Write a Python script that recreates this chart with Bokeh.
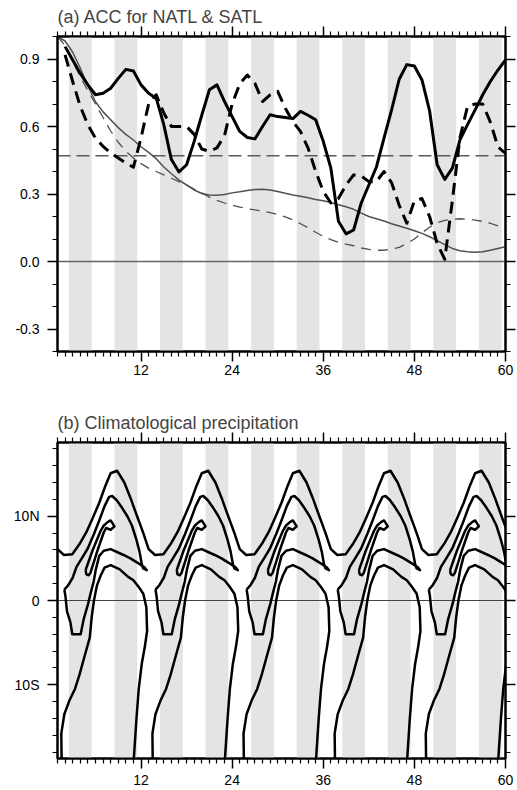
from bokeh.plotting import figure
from bokeh.models import Range1d, FixedTicker, LinearAxis
from bokeh.layouts import column
from bokeh.embed import file_html
from bokeh.resources import INLINE

FONT = "Liberation Sans"

# ---------------- panel (a): ACC versus lead month ----------------
lead_months = list(range(1, 61))
acc_months = list(range(2, 61))
natl_acc = [0.955, 0.896, 0.836, 0.785, 0.741, 0.748, 0.770, 0.814, 0.854, 0.847,
            0.785, 0.748, 0.726, 0.608, 0.453, 0.398, 0.430, 0.534, 0.650, 0.763,
            0.785, 0.711, 0.644, 0.578, 0.551, 0.545, 0.600, 0.652, 0.644, 0.640,
            0.635, 0.667, 0.650, 0.630, 0.534, 0.415, 0.179, 0.123, 0.140, 0.260,
            0.340, 0.420, 0.548, 0.674, 0.810, 0.875, 0.869, 0.807, 0.670, 0.430,
            0.365, 0.415, 0.541, 0.608, 0.674, 0.741, 0.800, 0.851, 0.896]
satl_acc = [0.918, 0.800, 0.689, 0.608, 0.548, 0.512, 0.482, 0.460, 0.438, 0.419,
            0.550, 0.700, 0.741, 0.660, 0.600, 0.600, 0.600, 0.565, 0.500, 0.490,
            0.505, 0.560, 0.700, 0.790, 0.829, 0.792, 0.711, 0.741, 0.756, 0.681,
            0.622, 0.578, 0.504, 0.401, 0.312, 0.260, 0.280, 0.340, 0.385, 0.380,
            0.355, 0.355, 0.400, 0.350, 0.250, 0.170, 0.270, 0.280, 0.200, 0.080,
            0.010, 0.270, 0.550, 0.690, 0.700, 0.700, 0.620, 0.510, 0.480]
natl_persist = [1.0, 0.98, 0.93, 0.86, 0.78, 0.71, 0.665, 0.63, 0.595, 0.565,
                0.54, 0.51, 0.485, 0.457, 0.42, 0.39, 0.362, 0.34, 0.318, 0.302,
                0.296, 0.294, 0.298, 0.305, 0.31, 0.316, 0.32, 0.321, 0.318, 0.311,
                0.303, 0.296, 0.29, 0.283, 0.276, 0.27, 0.262, 0.252, 0.243, 0.232,
                0.215, 0.2, 0.19, 0.18, 0.168, 0.158, 0.148, 0.137, 0.125, 0.11,
                0.093, 0.075, 0.058, 0.048, 0.043, 0.041, 0.043, 0.05, 0.058, 0.066]
satl_persist = [1.0, 0.96, 0.89, 0.82, 0.76, 0.70, 0.64, 0.58, 0.53, 0.49,
                0.46, 0.435, 0.415, 0.40, 0.385, 0.37, 0.355, 0.34, 0.322, 0.305,
                0.286, 0.272, 0.26, 0.25, 0.242, 0.235, 0.229, 0.224, 0.217, 0.209,
                0.198, 0.185, 0.168, 0.15, 0.13, 0.112, 0.097, 0.085, 0.077, 0.07,
                0.06, 0.054, 0.05, 0.05, 0.055, 0.063, 0.08, 0.10, 0.128, 0.152,
                0.172, 0.183, 0.188, 0.19, 0.188, 0.184, 0.178, 0.17, 0.158, 0.145]
significance = 0.47
acc_ticks = [-0.3, 0.0, 0.3, 0.6, 0.9]
acc_tick_labels = ["-0.3", "0.0", "0.3", "0.6", "0.9"]
acc_minor = [-0.4, -0.2, -0.1, 0.1, 0.2, 0.4, 0.5, 0.7, 0.8, 1.0]
acc_min, acc_max = -0.4, 1.0

x_ticks = [12, 24, 36, 48, 60]
x_minor = [m for m in range(1, 60) if m % 12]
stripe_start = [2.5, 8.5, 14.5, 20.5, 26.5, 32.5, 38.5, 44.5, 50.5, 56.5]
stripe_width = 3

# ---------------- panel (b): climatological precipitation contours ----------------
# traced over one annual cycle (month of year, latitude); the climatology repeats each year
cyc_month_outer_n = [1.0, 1.85, 2.95, 3.9, 4.8, 5.6, 6.5, 7.3, 8.0, 8.85, 9.8, 10.6, 11.4, 12.3]
cyc_lat_outer_n = [6.1, 5.4, 5.5, 6.7, 8.1, 9.7, 11.6, 13.6, 15.1, 15.4, 14.0, 12.2, 10.2, 8.0]

cyc_month_outer_s = [1.55, 1.5, 1.9, 2.6, 3.3, 3.9, 4.6, 5.25, 5.5, 5.8, 6.2, 6.7, 7.2, 8.0,
                     9.2, 10.3, 11.0, 11.7, 12.3, 12.7, 12.8, 12.5, 12.1, 11.7, 11.4, 11.0]
cyc_lat_outer_s = [-19.5, -15.8, -13.5, -11.8, -10.5, -8.8, -6.5, -4.4, -2.0, 0.0, 1.8, 3.0, 3.9, 4.2,
                   3.7, 2.8, 2.4, 1.6, 0.8, -0.8, -3.6, -5.5, -7.5, -10.5, -14.0, -19.5]

cyc_month_mid = [1.9, 2.4, 3.0, 3.5, 4.2, 5.0, 5.8, 6.5, 7.2, 7.8, 8.2, 8.8, 9.5, 10.2, 10.8,
                 11.4, 11.8, 12.1, 12.3, 12.75, 12.5, 11.5, 10.6, 9.7, 8.0, 7.1, 6.5, 6.05,
                 5.75, 5.4, 5.0, 4.45, 4.05, 2.95, 2.7, 2.25, 2.05, 1.9]
cyc_lat_mid = [1.3, 1.8, 2.7, 4.0, 5.0, 6.2, 7.9, 9.5, 11.2, 12.3, 12.4, 11.9, 11.0, 10.0, 8.9,
               7.2, 5.8, 4.3, 3.8, 3.6, 3.9, 4.5, 5.0, 5.4, 6.1, 5.9, 5.3, 3.7,
               2.2, 1.0, -0.5, -2.2, -4.0, -4.0, -2.6, -1.3, 0.5, 1.3]

cyc_month_inner = [4.7, 4.8, 5.1, 5.35, 6.25, 7.1, 7.4, 8.0, 8.5, 8.0, 7.6, 7.1, 6.7, 5.6, 4.7]
cyc_lat_inner = [3.6, 3.1, 3.0, 3.3, 5.9, 8.1, 8.6, 8.4, 8.8, 9.5, 9.3, 8.9, 8.3, 5.9, 3.6]

years = list(range(-1, 6))
months_per_year = 12
lat_ticks = [-10, 0, 10]
lat_tick_labels = ["10S", "0", "10N"]
lat_minor = [-18, -16, -14, -12, -8, -6, -4, -2, 2, 4, 6, 8, 12, 14, 16, 18]
lat_min, lat_max = -18.75, 18.75


def tile(months, lats):
    xs, ys = [], []
    for k in years:
        xs.append([m + months_per_year * k for m in months])
        ys.append(list(lats))
    return xs, ys


def style_axis(ax, tick_out=10, minor_out=5, label_size="14px", standoff=8, show_labels=True):
    ax.axis_line_width = 2
    ax.axis_line_color = "black"
    ax.major_tick_in = 0
    ax.minor_tick_in = 0
    ax.major_tick_out = tick_out
    ax.minor_tick_out = minor_out
    ax.major_tick_line_width = 1.5
    ax.minor_tick_line_width = 1.2
    ax.major_tick_line_color = "black"
    ax.minor_tick_line_color = "black"
    ax.major_label_text_font = FONT
    ax.major_label_text_font_size = label_size
    ax.major_label_text_color = "black" if show_labels else None
    ax.major_label_standoff = standoff


def make_fig(title, ymin, ymax, yticks, yminor, ylabels, height, mb_top, mb_bottom, x_standoff):
    p = figure(width=517, height=height, x_range=Range1d(lead_months[0], lead_months[-1]),
               y_range=Range1d(ymin, ymax), output_backend="svg", toolbar_location=None,
               min_border_left=57, min_border_right=12, min_border_top=mb_top,
               min_border_bottom=mb_bottom, background_fill_color="white",
               border_fill_color="white")
    p.title.text = title
    p.title.text_font = FONT
    p.title.text_font_size = "18px"
    p.title.text_font_style = "normal"
    p.title.align = "left"
    p.title.standoff = 0
    p.title.text_line_height = 1.0
    p.grid.visible = False
    p.outline_line_color = "black"
    p.outline_line_width = 2

    xt = FixedTicker(ticks=x_ticks, minor_ticks=x_minor)
    yt = FixedTicker(ticks=yticks, minor_ticks=yminor)
    p.xaxis[0].ticker = xt
    p.yaxis[0].ticker = yt
    p.yaxis[0].major_label_overrides = dict(zip(yticks, ylabels))
    style_axis(p.xaxis[0], standoff=x_standoff)
    style_axis(p.yaxis[0], standoff=8)

    top = LinearAxis(ticker=xt)
    style_axis(top, label_size="0px", standoff=0, show_labels=False)
    p.add_layout(top, "above")
    right = LinearAxis(ticker=yt)
    style_axis(right, label_size="0px", standoff=0, show_labels=False)
    p.add_layout(right, "right")

    p.quad(left=stripe_start, right=[s + stripe_width for s in stripe_start],
           bottom=ymin, top=ymax, fill_color="#e4e4e4", line_color=None)
    return p


# ---- panel (a)
p1 = make_fig("(a) ACC for NATL & SATL", acc_min, acc_max, acc_ticks, acc_minor,
              acc_tick_labels, 395, 36, 44, 3)
x_ends = [lead_months[0], lead_months[-1]]
p1.line(x_ends, [0, 0], line_color="#666666", line_width=1.5)
p1.line(x_ends, [significance, significance], line_color="#5a5a5a", line_width=1.5,
        line_dash="13 6")
p1.line(lead_months, natl_persist, line_color="#505050", line_width=1.5)
p1.line(lead_months, satl_persist, line_color="#505050", line_width=1.3, line_dash="10 7")
p1.line(acc_months, natl_acc, line_color="black", line_width=3, line_join="round")
p1.line(acc_months, satl_acc, line_color="black", line_width=3, line_dash="12 7",
        line_join="round")

# ---- panel (b)
p2 = make_fig("(b) Climatological precipitation", lat_min, lat_max, lat_ticks, lat_minor,
              lat_tick_labels, 395, 47, 32, 6)
p2.line(x_ends, [0, 0], line_color="#444444", line_width=1)

on_x, on_y = [], []
for k in years:
    on_x += [m + months_per_year * k for m in cyc_month_outer_n]
    on_y += cyc_lat_outer_n
p2.line(on_x, on_y, line_color="black", line_width=2.5, line_join="round")

for mm, ll in [(cyc_month_outer_s, cyc_lat_outer_s), (cyc_month_mid, cyc_lat_mid),
               (cyc_month_inner, cyc_lat_inner)]:
    xs, ys = tile(mm, ll)
    p2.multi_line(xs, ys, line_color="black", line_width=2.5, line_join="round")

layout = column(p1, p2)
open("out.html", "w").write(file_html(layout, INLINE))
